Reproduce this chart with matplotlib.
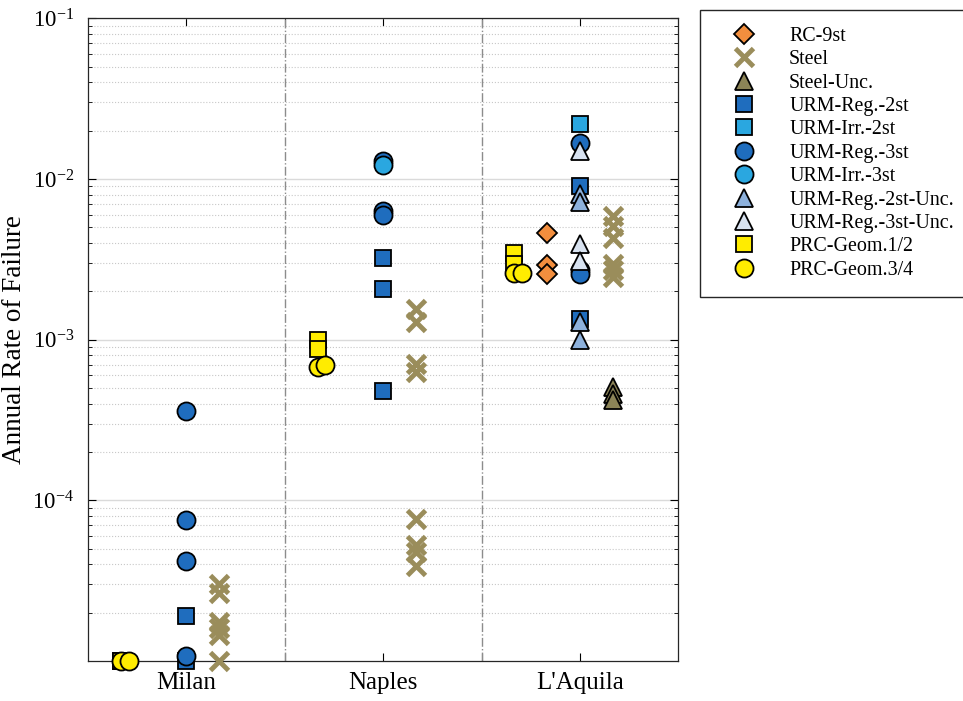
import matplotlib
matplotlib.use('Agg')
import matplotlib.pyplot as plt
from matplotlib.ticker import LogLocator, NullFormatter, FixedLocator, LogFormatterSciNotation

plt.rcParams['font.family'] = 'Liberation Serif'
plt.rcParams['mathtext.fontset'] = 'custom'
plt.rcParams['mathtext.rm'] = 'Liberation Serif'
plt.rcParams['mathtext.it'] = 'Liberation Serif:italic'

# Sites and values per series (one list per site: Milan, Naples, L'Aquila)
sites = ['Milan', 'Naples', "L'Aquila"]

rc_9st = [[], [], [4.6e-3, 2.9e-3, 2.55e-3]]
steel = [[3.0e-5, 2.65e-5, 1.75e-5, 1.6e-5, 1.45e-5, 1.0e-5],
         [1.55e-3, 1.28e-3, 7.1e-4, 6.3e-4, 7.7e-5, 5.3e-5, 4.8e-5, 3.9e-5],
         [5.9e-3, 5.1e-3, 4.3e-3, 2.95e-3, 2.7e-3, 2.45e-3]]
steel_unc = [[], [], [5.1e-4, 4.6e-4, 4.2e-4]]
urm_reg_2st = [[1.9e-5, 1.0e-5], [3.2e-3, 2.07e-3, 4.8e-4], [9.1e-3, 1.35e-3]]
urm_irr_2st = [[], [], [2.2e-2]]
urm_reg_3st = [[3.6e-4, 7.5e-5, 4.2e-5, 1.07e-5], [1.3e-2, 6.3e-3, 6.0e-3],
               [1.68e-2, 2.7e-3, 2.55e-3]]
urm_irr_3st = [[], [1.22e-2], []]
urm_reg_2st_unc = [[], [], [8.1e-3, 7.2e-3, 1.28e-3, 1.0e-3]]
urm_reg_3st_unc = [[], [], [1.49e-2, 3.95e-3, 3.1e-3]]
prc_geom12 = [[1.0e-5, 1.0e-5], [9.9e-4, 8.8e-4], [3.45e-3, 2.95e-3]]
prc_geom34 = [[1.0e-5, 1.0e-5], [6.8e-4, 7.0e-4], [2.6e-3, 2.6e-3]]

site_x = [1, 3, 5]
y_labels = [1e-4, 1e-3, 1e-2, 1e-1]

# label, data, marker, face, edge, size, x offset, step between points
series = [
    ('RC-9st', rc_9st, 'D', '#F28E3E', 'black', 10, -1/3, 0),
    ('Steel', steel, 'x', '#9A8D5B', '#9A8D5B', 13, 1/3, 0),
    ('Steel-Unc.', steel_unc, '^', '#8C8457', 'black', 13, 1/3, 0),
    ('URM-Reg.-2st', urm_reg_2st, 's', '#1F6DBE', 'black', 11, 0, 0),
    ('URM-Irr.-2st', urm_irr_2st, 's', '#2AA7E0', 'black', 11, 0, 0),
    ('URM-Reg.-3st', urm_reg_3st, 'o', '#1F6DBE', 'black', 13, 0, 0),
    ('URM-Irr.-3st', urm_irr_3st, 'o', '#2AA7E0', 'black', 13, 0, 0),
    ('URM-Reg.-2st-Unc.', urm_reg_2st_unc, '^', '#8DB1DC', 'black', 13, 0, 0),
    ('URM-Reg.-3st-Unc.', urm_reg_3st_unc, '^', '#D8E2F0', 'black', 13, 0, 0),
    ('PRC-Geom.1/2', prc_geom12, 's', '#FFEC00', 'black', 11, -2/3, 0),
    ('PRC-Geom.3/4', prc_geom34, 'o', '#FFEC00', 'black', 13, -2/3, 0.08),
]

fig = plt.figure(figsize=(9.63, 7.01), dpi=100)
ax = fig.add_axes([0.0914, 0.057, 0.613, 0.917])

for label, data, marker, face, edge, size, off, step in series:
    first = True
    for sx, vals in zip(site_x, data):
        for k, v in enumerate(vals):
            ew = 3.5 if marker == 'x' else 1.3
            ax.plot(sx + off + k * step, v, linestyle='none', marker=marker,
                    markersize=size, markerfacecolor=face, markeredgecolor=edge,
                    markeredgewidth=ew, clip_on=False, zorder=5,
                    label=label if first else None)
            first = False

ax.set_yscale('log')
ax.set_ylim(1e-5, 1e-1)
ax.set_xlim(0, 6)

ax.yaxis.set_major_locator(FixedLocator(y_labels))
ax.yaxis.set_major_formatter(LogFormatterSciNotation())
ax.yaxis.set_minor_locator(LogLocator(base=10, subs=range(2, 10), numticks=20))
ax.yaxis.set_minor_formatter(NullFormatter())
ax.xaxis.set_major_locator(FixedLocator([1, 2, 3, 4, 5]))
ax.set_xticklabels([sites[0], '', sites[1], '', sites[2]])

ax.tick_params(which='both', direction='in', top=True, right=True)
ax.tick_params(which='major', length=6, width=0.8)
ax.tick_params(which='minor', length=3, width=0.6)
ax.tick_params(axis='y', which='major', pad=10, labelsize=16.5)
ax.tick_params(axis='x', which='major', pad=8, labelsize=18)

ax.grid(True, axis='y', which='major', color='#DADADA', linewidth=1.0)
ax.grid(True, axis='y', which='minor', color='#C8C8C8', linestyle=':', linewidth=0.8)
ax.set_axisbelow(True)

for xd in [2, 4]:
    ax.axvline(xd, color='#8C8C8C', linestyle='-.', linewidth=1.0, zorder=1)

for s in ax.spines.values():
    s.set_linewidth(0.9)
    s.set_color('#262626')

ax.set_ylabel('Annual Rate of Failure', fontsize=19.5, labelpad=4)

fig.legend(loc='upper left', bbox_to_anchor=(0.727, 0.986), fontsize=14.4,
           frameon=True, fancybox=False, edgecolor='#262626', framealpha=1,
           labelspacing=0.22, handlelength=2.7, handletextpad=0.9,
           borderpad=0.85, borderaxespad=0, numpoints=1)

fig.savefig('out.png', dpi=100)
